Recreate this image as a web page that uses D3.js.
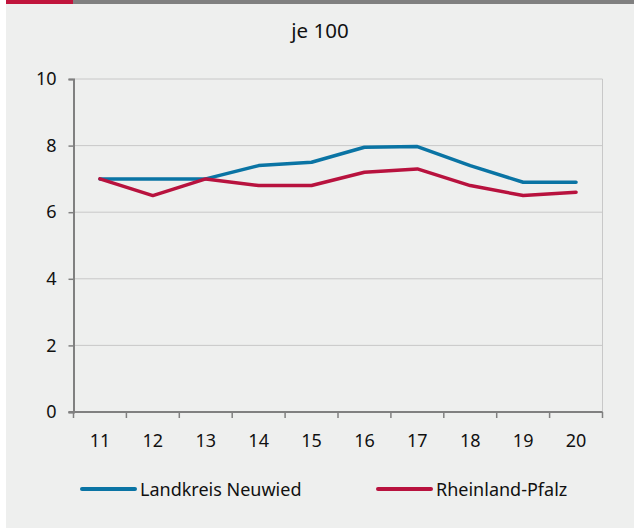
<!DOCTYPE html>
<html>
<head>
<meta charset="utf-8">
<script src="https://cdn.jsdelivr.net/npm/d3@7/dist/d3.min.js"></script>
<style>
  html, body { margin: 0; padding: 0; background: #ffffff; }
  svg { display: block; }
  text { font-family: "Noto Sans", "Open Sans", sans-serif; fill: #111111; }
</style>
</head>
<body>
<script>
// Jahre (Achsenbeschriftung) und Werte je 100
const years = ["11", "12", "13", "14", "15", "16", "17", "18", "19", "20"];
const neuwied = [7.0, 7.0, 7.0, 7.4, 7.5, 7.95, 7.97, 7.4, 6.9, 6.9];
const rlp = [7.0, 6.5, 7.0, 6.8, 6.8, 7.2, 7.3, 6.8, 6.5, 6.6];
const yTicks = [0, 2, 4, 6, 8, 10];
const seriesNames = ["Landkreis Neuwied", "Rheinland-Pfalz"];
const seriesColors = ["#0a74a4", "#b8123e"];
const title = "je 100";

const W = 634, H = 529;
const svg = d3.select("body").append("svg").attr("width", W).attr("height", H);

// Hintergrund und Kopfleiste
svg.append("rect").attr("x", 6).attr("y", 0).attr("width", W - 6).attr("height", H - 1).attr("fill", "#eeefee");
svg.append("rect").attr("x", 6).attr("y", 0).attr("width", W - 6).attr("height", 4).attr("fill", "#808080");
svg.append("rect").attr("x", 6).attr("y", 0).attr("width", 67).attr("height", 4).attr("fill", "#c0143c");

svg.append("text").attr("x", 320).attr("y", 38).attr("text-anchor", "middle")
  .attr("font-size", 20.5).text(title);

const plotL = 73.5, plotR = 602.5, plotT = 79, plotB = 412;
const x = d3.scaleBand().domain(years).range([plotL, plotR]);
const y = d3.scaleLinear().domain([0, 10]).range([plotB, plotT]);

// Gitternetz
svg.append("g").selectAll("line").data(yTicks.filter(d => d > 0)).join("line")
  .attr("x1", plotL).attr("x2", plotR)
  .attr("y1", d => y(d)).attr("y2", d => y(d))
  .attr("stroke", "#c8c8c8").attr("stroke-width", 1);
svg.append("line").attr("x1", plotR).attr("x2", plotR).attr("y1", plotT).attr("y2", plotB)
  .attr("stroke", "#c8c8c8").attr("stroke-width", 1);

// y-Achse
const yAxis = svg.append("g").attr("transform", `translate(${plotL},0)`)
  .call(d3.axisLeft(y).tickValues(yTicks).tickSize(5).tickPadding(12).tickFormat(d3.format("d")));
yAxis.select(".domain").attr("stroke", "#808080").attr("stroke-width", 2);
yAxis.selectAll(".tick line").attr("stroke", "#808080").attr("stroke-width", 1.5);
yAxis.selectAll("text").attr("font-size", 18).attr("fill", "#111111")
  .style("font-family", "'Noto Sans', 'Open Sans', sans-serif");

// x-Achse mit Teilstrichen an den Kategoriegrenzen
const xg = svg.append("g");
xg.append("line").attr("x1", plotL - 5).attr("x2", plotR).attr("y1", plotB).attr("y2", plotB)
  .attr("stroke", "#808080").attr("stroke-width", 2);
const bounds = years.map(d => x(d)).concat([x(years[years.length - 1]) + x.bandwidth()]);
xg.selectAll(".xt").data(bounds).join("line")
  .attr("x1", d => d).attr("x2", d => d).attr("y1", plotB).attr("y2", plotB + 6)
  .attr("stroke", "#808080").attr("stroke-width", 1.5);
xg.selectAll("text").data(years).join("text")
  .attr("x", d => x(d) + x.bandwidth() / 2).attr("y", 447)
  .attr("text-anchor", "middle").attr("font-size", 18).text(d => d);

// Linien
const line = d3.line().x((d, i) => x(years[i]) + x.bandwidth() / 2).y(d => y(d));
[neuwied, rlp].forEach((s, k) => {
  svg.append("path").datum(s).attr("d", line).attr("fill", "none")
    .attr("stroke", seriesColors[k]).attr("stroke-width", 3.5)
    .attr("stroke-linejoin", "round").attr("stroke-linecap", "round");
});

// Legende
const legX = [82, 378];
seriesNames.forEach((n, k) => {
  svg.append("line").attr("x1", legX[k]).attr("x2", legX[k] + 53).attr("y1", 489).attr("y2", 489)
    .attr("stroke", seriesColors[k]).attr("stroke-width", 4).attr("stroke-linecap", "round");
  svg.append("text").attr("x", legX[k] + 58).attr("y", 496).attr("font-size", 18).text(n);
});
</script>
</body>
</html>
